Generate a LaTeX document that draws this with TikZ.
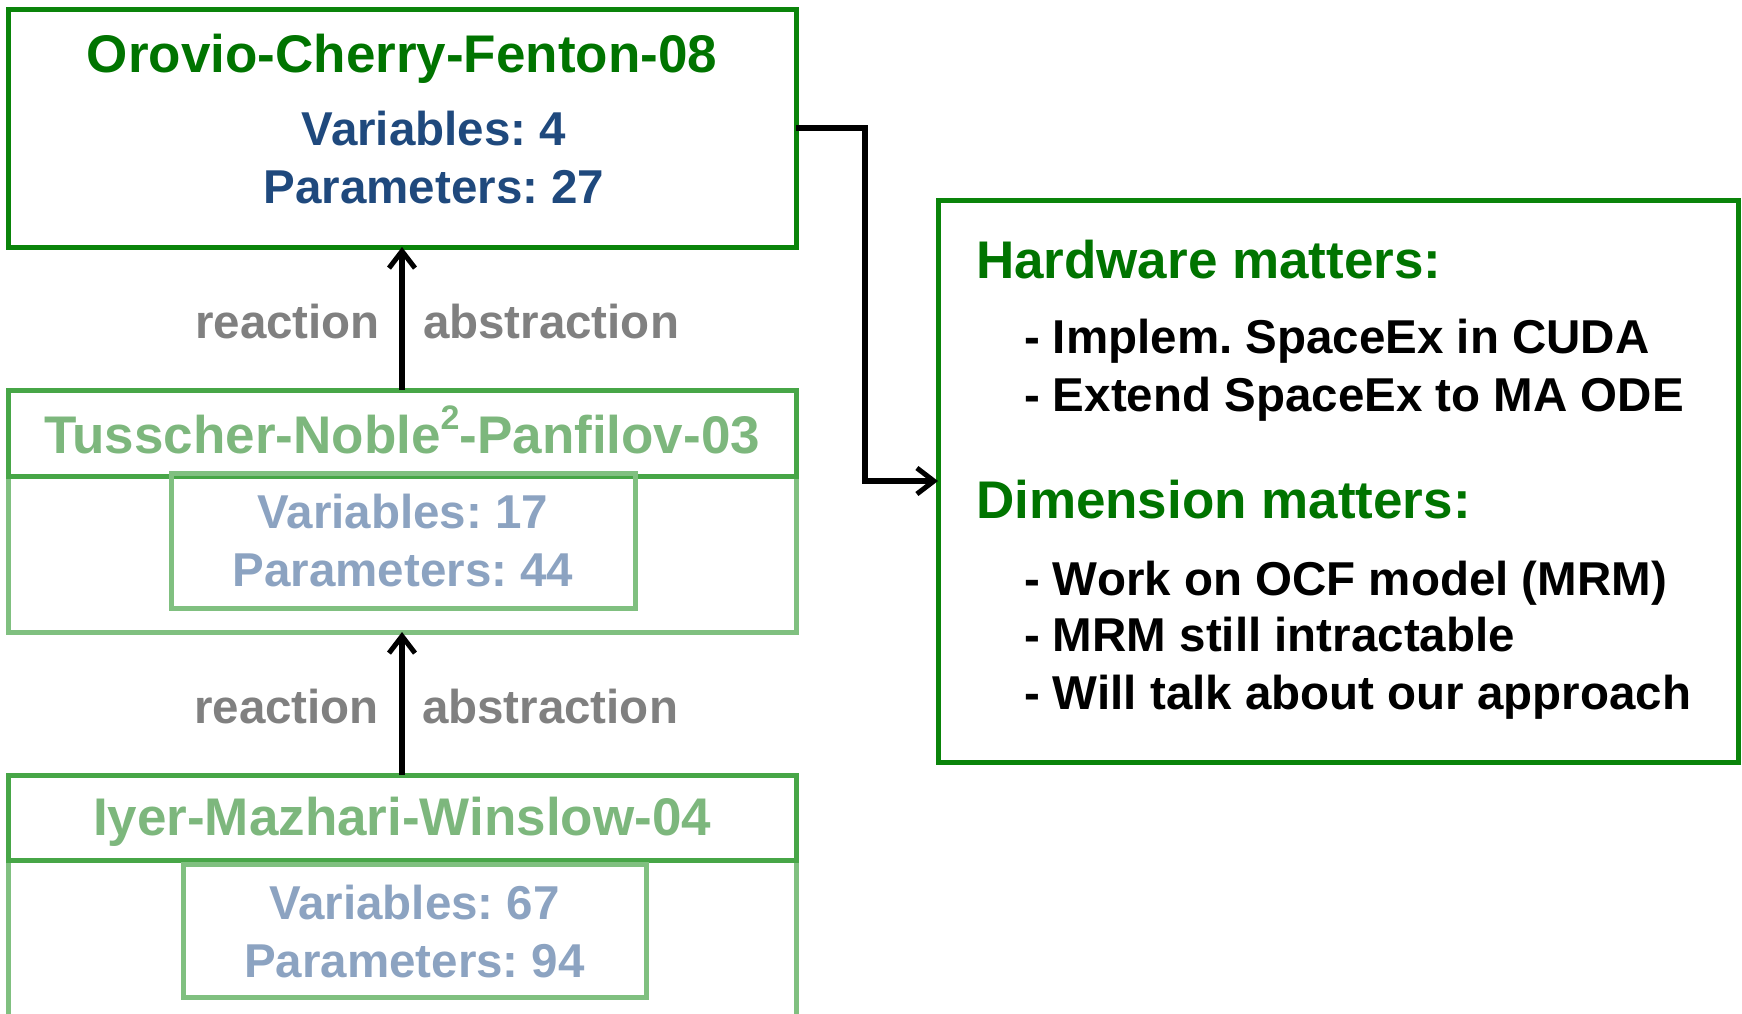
\documentclass[tikz,border=0pt]{standalone}
\usepackage{fontspec}
\setmainfont{Liberation Sans}
\usetikzlibrary{arrows.meta}
\frenchspacing
\definecolor{dkgreen}{HTML}{007400}
\definecolor{bordergreen}{HTML}{0A840A}
\definecolor{dkblue}{HTML}{1F497D}
\definecolor{fadegreen}{HTML}{7DB77D}
\definecolor{fadeborder}{HTML}{80C080}
\definecolor{headborder}{HTML}{47A647}
\definecolor{fadeblue}{HTML}{8CA3C1}
\definecolor{labelgray}{HTML}{808080}
\tikzset{
  box/.style={draw=bordergreen, line width=5pt, rectangle, inner sep=0pt, outer sep=0pt},
  fadebox/.style={draw=fadeborder, line width=5pt, rectangle, inner sep=0pt, outer sep=0pt},
  headbox/.style={draw=headborder, line width=5pt, rectangle, inner sep=0pt, outer sep=0pt},
  txt/.style={inner sep=0pt, outer sep=0pt, anchor=base, font=\bfseries\fontsize{47.5}{56}\selectfont},
  bigtxt/.style={inner sep=0pt, outer sep=0pt, anchor=base, font=\bfseries\fontsize{53}{62}\selectfont},
  conn/.style={draw=black, line width=5.5pt, -{Straight Barb[length=17pt,width=26pt,line width=5pt]}},
}
\begin{document}
\frenchspacing
\begin{tikzpicture}[x=1pt,y=-1pt]
\useasboundingbox (0,0) rectangle (1742,1013);
\clip (0,0) rectangle (1742,1013);
% top box
\node[box, minimum width=788pt, minimum height=238pt] (ocf) at (402,128) {};
\node[bigtxt, text=dkgreen] (ocft) at (402,72) {Orovio-Cherry-Fenton-08};
\node[txt, text=dkblue] (ocfv) at (434,145) {Variables: 4};
\node[txt, text=dkblue] (ocfp) at (434,203) {Parameters: 27};
% TNP
\node[fadebox, minimum width=788pt, minimum height=156pt] (tnpbody) at (402,554) {};
\node[headbox, minimum width=788pt, minimum height=86pt] (tnphead) at (402,433) {};
\node[fadebox, minimum width=464pt, minimum height=135pt] (tnpin) at (403,540.5) {};
\node[bigtxt, text=fadegreen] (tnpt) at (402,453) {Tusscher-Noble\raisebox{0.45em}{\fontsize{34}{40}\selectfont 2}-Panfilov-03};
\node[txt, text=fadeblue] (tnpv) at (403,528) {Variables: 17};
\node[txt, text=fadeblue] (tnpp) at (403,586) {Parameters: 44};
% IMW
\node[fadebox, minimum width=788pt, minimum height=170pt] (imwbody) at (402,945) {};
\node[headbox, minimum width=788pt, minimum height=85pt] (imwhead) at (402,817.5) {};
\node[fadebox, minimum width=463pt, minimum height=133pt] (imwin) at (414.5,930.5) {};
\node[bigtxt, text=fadegreen] (imwt) at (402,835) {Iyer-Mazhari-Winslow-04};
\node[txt, text=fadeblue] (imwv) at (414.5,919) {Variables: 67};
\node[txt, text=fadeblue] (imwp) at (414.5,977) {Parameters: 94};
% arrows and labels
\draw[conn] (tnphead.north) -- (ocf.south);
\draw[conn] (imwhead.north) -- (tnpbody.south);
\node[txt, text=labelgray, anchor=base east] (r1) at (380,338) {reaction};
\node[txt, text=labelgray, anchor=base west] (a1) at (423,338) {abstraction};
\node[txt, text=labelgray, anchor=base east] (r2) at (379,723) {reaction};
\node[txt, text=labelgray, anchor=base west] (a2) at (422,723) {abstraction};
% right box
\node[box, minimum width=800pt, minimum height=562pt] (rbox) at (1338,481) {};
\coordinate (bend) at (865,0);
\draw[conn] (ocf.east) -| (bend |- rbox.west) -- (rbox.west);
\node[bigtxt, text=dkgreen, anchor=base west] (h1) at (976,278) {Hardware matters:};
\node[txt, anchor=base west] (h1a) at (1024,353) {- Implem. SpaceEx in CUDA};
\node[txt, anchor=base west] (h1b) at (1024,411) {- Extend SpaceEx to MA ODE};
\node[bigtxt, text=dkgreen, anchor=base west] (h2) at (976,518) {Dimension matters:};
\node[txt, anchor=base west] (h2a) at (1024,595) {- Work on OCF model (MRM)};
\node[txt, anchor=base west] (h2b) at (1024,651) {- MRM still intractable};
\node[txt, anchor=base west] (h2c) at (1024,709) {- Will talk about our approach};
\end{tikzpicture}
\end{document}
